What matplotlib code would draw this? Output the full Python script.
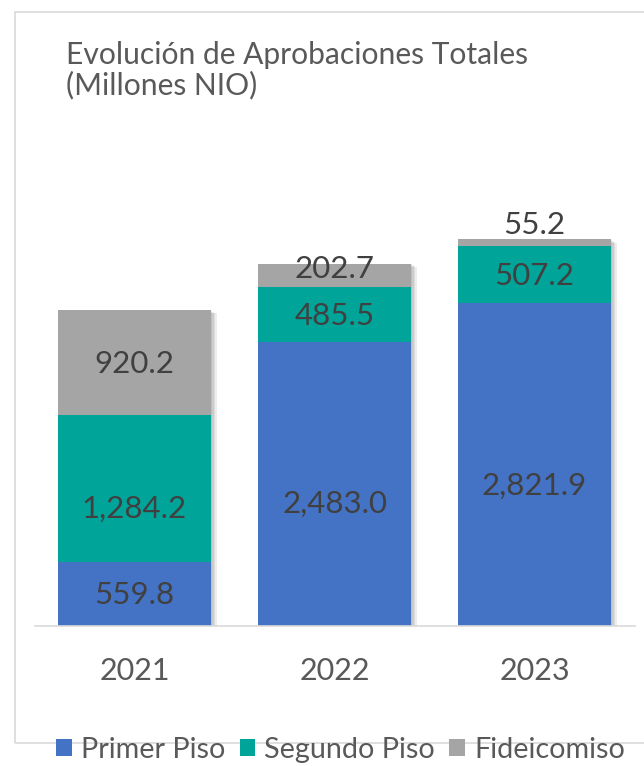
import numpy as np
import matplotlib.pyplot as plt
import matplotlib.patheffects as pe
from matplotlib.patches import Rectangle

plt.rcParams['font.family'] = ['Lato', 'DejaVu Sans']

# Data
years = ['2021', '2022', '2023']
primer_piso = [559.8, 2483.0, 2821.9]
segundo_piso = [1284.2, 485.5, 507.2]
fideicomiso = [920.2, 202.7, 55.2]
series_names = ['Primer Piso', 'Segundo Piso', 'Fideicomiso']
colors = ['#4472C4', '#00A499', '#A5A5A5']
title_lines = ['Evolución de Aprobaciones Totales', '(Millones NIO)']

W, H = 644, 766
fig = plt.figure(figsize=(W/100, H/100), dpi=100)
ax = fig.add_axes([34.5/W, 140/H, 600/W, 400/H])

# chart border (bottom edge sits behind the legend)
fig.patches.append(Rectangle((15/W, 23/H), 700/W, 731/H, transform=fig.transFigure,
                             fill=False, edgecolor='#d9d9d9', linewidth=1.2))

x = np.arange(len(years))
w = 0.765
series = [primer_piso, segundo_piso, fideicomiso]
totals = np.sum(series, axis=0)

# soft shadow behind each stack
shadow = [pe.SimplePatchShadow(offset=(o, -o*0.6), shadow_rgbFace='k', alpha=0.07)
          for o in (1, 2, 3, 4)]
ax.bar(x, totals, w, color='white', zorder=1, path_effects=shadow + [pe.Normal()])

# label nudges (points), the original labels were moved by hand in a few segments
nudge = [[-1, -14.5, -15], [-14.5, -1, -1], [-1, -4, 0]]

bottom = np.zeros(len(years))
bars = []
for vals, name, c, dy in zip(series, series_names, colors, nudge):
    b = ax.bar(x, vals, w, bottom=bottom, color=c, label=name, zorder=2)
    bars.append(b)
    for xi, v, b0, d in zip(x, vals, bottom, dy):
        txt = f'{v:,.1f}'
        if v < 100:
            ax.annotate(txt, (xi, b0 + v), xytext=(0, d), textcoords='offset points',
                        ha='center', va='bottom', fontsize=22.5, color='#404040', zorder=3)
        elif v < 300:
            ax.annotate(txt, (xi, b0 + v), xytext=(0, d), textcoords='offset points',
                        ha='center', va='center', fontsize=22.5, color='#404040', zorder=3)
        else:
            ax.annotate(txt, (xi, b0 + v/2), xytext=(0, d), textcoords='offset points',
                        ha='center', va='center', fontsize=22.5, color='#404040', zorder=3)
    bottom += np.array(vals)

ax.set_xlim(-0.5, 2.5)
ax.set_ylim(0, 3500)
ax.set_yticks([])
ax.set_xticks(x)
ax.set_xticklabels(years, fontsize=22, color='#595959')
ax.tick_params(axis='x', length=0, pad=22)
for s in ['top', 'right', 'left']:
    ax.spines[s].set_visible(False)
ax.spines['bottom'].set_color('#d9d9d9')
ax.spines['bottom'].set_linewidth(1.2)
ax.spines['bottom'].set_zorder(4)

fig.text(66/W, 1 - 64/H, title_lines[0], fontsize=21.6, color='#595959', ha='left', va='baseline')
fig.text(66/W, 1 - 94/H, title_lines[1], fontsize=21.6, color='#595959', ha='left', va='baseline')

fig.legend(handles=bars, labels=series_names, loc='center', bbox_to_anchor=(340.5/W, 1 - 750/H),
           ncol=3, frameon=False, fontsize=20.7, handlelength=0.55, handleheight=0.55,
           handletextpad=0.31, columnspacing=0.5, labelcolor='#595959',
           borderpad=0, borderaxespad=0)

fig.savefig('out.png', dpi=100)
